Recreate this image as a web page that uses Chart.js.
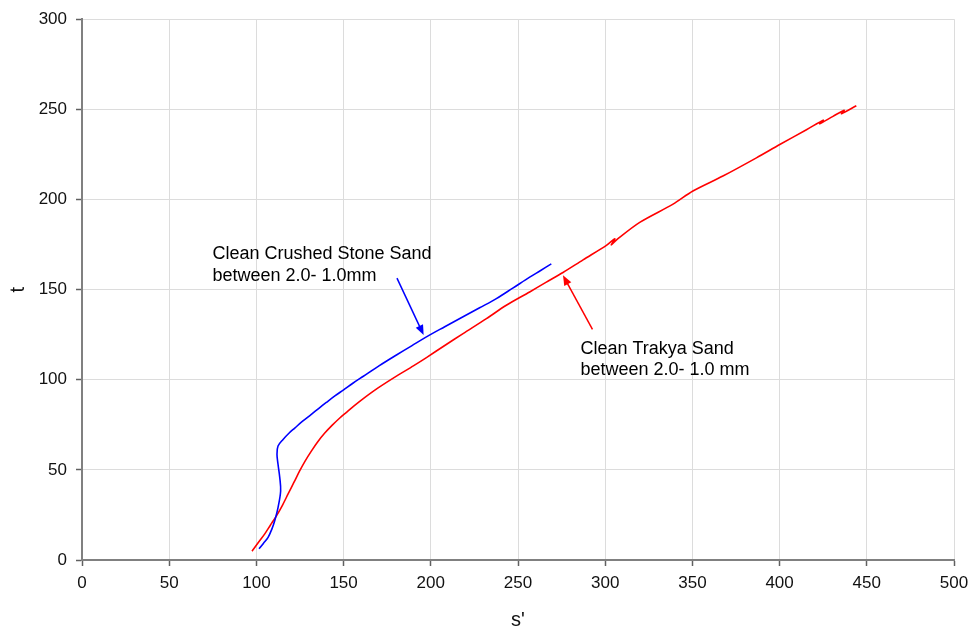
<!DOCTYPE html>
<html>
<head>
<meta charset="utf-8">
<script src="https://cdn.jsdelivr.net/npm/chart.js@4/dist/chart.umd.min.js"></script>
<style>
  html, body { margin: 0; padding: 0; background: #fff; }
  #wrap { width: 976px; height: 634px; }
</style>
</head>
<body>
<div id="wrap"><canvas id="chart" width="976" height="634"></canvas></div>
<script>
//// data (s', t)
const crushedS = [101.5, 104.0, 106.7, 108.8, 110.5, 112.4, 113.9, 113.4, 112.4, 111.8, 112.4, 115.3, 118.5, 122.0, 126.5, 131.5, 136.0, 140.1, 145.0, 150.0, 155.5, 161.1, 170.5, 180.3, 189.0, 197.5, 208.0, 218.5, 228.0, 237.6, 247.0, 256.7, 263.0, 269.1];
const crushedT = [6.2, 9.2, 12.6, 17.0, 21.8, 29.1, 38.3, 45.7, 53.1, 58.6, 63.2, 66.9, 70.2, 73.2, 77.0, 80.8, 84.3, 87.4, 91.0, 94.4, 98.2, 101.8, 107.8, 113.7, 118.8, 123.8, 129.4, 134.9, 139.9, 145.0, 150.8, 156.9, 160.6, 164.3];

const trakyaS = [97.5, 101.0, 104.8, 108.0, 111.5, 115.0, 118.1, 121.5, 124.8, 128.0, 131.5, 135.2, 139.2, 143.5, 147.5, 151.6, 156.0, 161.1, 170.0, 180.3, 190.0, 197.5, 208.0, 218.5, 231.9, 243.3, 256.7, 266.0, 275.8, 287.3, 300.7, 305.5, 303.5, 307.0, 319.8, 338.9, 350.3, 367.5, 386.7, 400.1, 415.4, 425.0, 423.0, 430.6, 437.0, 435.5, 444.0];
const trakyaT = [4.9, 9.6, 14.5, 19.3, 24.5, 30.5, 36.5, 43.0, 49.4, 55.0, 60.4, 65.6, 70.4, 74.8, 78.5, 81.9, 85.5, 89.4, 95.6, 102.0, 107.7, 112.3, 119.0, 125.6, 133.9, 141.3, 148.7, 154.0, 159.5, 166.5, 174.5, 178.2, 174.8, 178.0, 187.3, 197.4, 204.7, 213.0, 223.1, 230.5, 238.7, 244.0, 242.0, 246.1, 249.5, 247.6, 252.0];

const xTicks = [0, 50, 100, 150, 200, 250, 300, 350, 400, 450, 500];
const yTicks = [0, 50, 100, 150, 200, 250, 300];

// notes and arrows, in data units
const notes = [
  { lines: ["Clean Crushed Stone Sand", "between 2.0- 1.0mm"], s: 74.8, t: 169.6, color: "#000", arrow: [180.6, 156.4, 195.9, 124.8], arrowColor: "#0000ff" },
  { lines: ["Clean Trakya Sand", "between 2.0- 1.0 mm"], s: 285.8, t: 117.2, color: "#000", arrow: [292.7, 127.9, 275.8, 157.9], arrowColor: "#ff0000" }
];

function toPoints(xs, ys) {
  return xs.map((x, i) => ({ x: x, y: ys[i] }));
}

const notesPlugin = {
  id: "notes",
  afterDatasetsDraw(chart) {
    const ctx = chart.ctx;
    const xs = chart.scales.x;
    const ys = chart.scales.y;
    ctx.save();
    notes.forEach((n) => {
      // arrow
      const x1 = xs.getPixelForValue(n.arrow[0]);
      const y1 = ys.getPixelForValue(n.arrow[1]);
      const x2 = xs.getPixelForValue(n.arrow[2]);
      const y2 = ys.getPixelForValue(n.arrow[3]);
      const ang = Math.atan2(y2 - y1, x2 - x1);
      ctx.strokeStyle = n.arrowColor;
      ctx.fillStyle = n.arrowColor;
      ctx.lineWidth = 1.5;
      ctx.beginPath();
      ctx.moveTo(x1, y1);
      ctx.lineTo(x2 - 6 * Math.cos(ang), y2 - 6 * Math.sin(ang));
      ctx.stroke();
      ctx.beginPath();
      ctx.moveTo(x2, y2);
      ctx.lineTo(x2 - 10 * Math.cos(ang) + 4 * Math.sin(ang), y2 - 10 * Math.sin(ang) - 4 * Math.cos(ang));
      ctx.lineTo(x2 - 10 * Math.cos(ang) - 4 * Math.sin(ang), y2 - 10 * Math.sin(ang) + 4 * Math.cos(ang));
      ctx.closePath();
      ctx.fill();
      // text
      ctx.fillStyle = n.color;
      ctx.font = '18px "Liberation Sans", Arial, sans-serif';
      ctx.textAlign = "left";
      ctx.textBaseline = "middle";
      const tx = xs.getPixelForValue(n.s);
      const ty = ys.getPixelForValue(n.t);
      n.lines.forEach((line, i) => ctx.fillText(line, tx, ty + i * 21.5));
    });
    ctx.restore();
  }
};

const tickFont = { family: '"Liberation Sans", Arial, sans-serif', size: 17 };
const titleFont = { family: '"Liberation Sans", Arial, sans-serif', size: 20 };

new Chart(document.getElementById("chart"), {
  type: "scatter",
  data: {
    datasets: [
      {
        label: "Clean Crushed Stone Sand",
        data: toPoints(crushedS, crushedT),
        showLine: true,
        borderColor: "#0000ff",
        borderWidth: 1.6,
        pointRadius: 0,
        tension: 0.35
      },
      {
        label: "Clean Trakya Sand",
        data: toPoints(trakyaS, trakyaT),
        showLine: true,
        borderColor: "#ff0000",
        borderWidth: 1.6,
        pointRadius: 0,
        tension: 0.3
      }
    ]
  },
  options: {
    responsive: false,
    animation: false,
    layout: { padding: { top: 15, right: 22, left: 0, bottom: 0 } },
    plugins: { legend: { display: false }, tooltip: { enabled: false } },
    scales: {
      x: {
        type: "linear",
        min: 0,
        max: 500,
        afterFit(scale) { scale.height = 74; },
        afterBuildTicks(scale) { scale.ticks = xTicks.map((v) => ({ value: v })); },
        grid: { color: "#dcdcdc", lineWidth: 1, tickColor: "#606060", tickLength: 6, tickWidth: 1.5 },
        border: { color: "#808080", width: 2 },
        ticks: { font: tickFont, color: "#111", padding: 7, maxRotation: 0 },
        title: { display: true, text: "s'", font: titleFont, color: "#111", padding: { top: 0, bottom: 2 } }
      },
      y: {
        type: "linear",
        min: 0,
        max: 300,
        afterFit(scale) { scale.width = 82; },
        afterBuildTicks(scale) { scale.ticks = yTicks.map((v) => ({ value: v })); },
        grid: { color: "#dcdcdc", lineWidth: 1, tickColor: "#606060", tickLength: 6, tickWidth: 1.5 },
        border: { color: "#808080", width: 2 },
        ticks: { font: tickFont, color: "#111", padding: 9 },
        title: { display: true, text: "t", font: titleFont, color: "#111", padding: { top: 6, bottom: 0 } }
      }
    }
  },
  plugins: [notesPlugin]
});
</script>
</body>
</html>
